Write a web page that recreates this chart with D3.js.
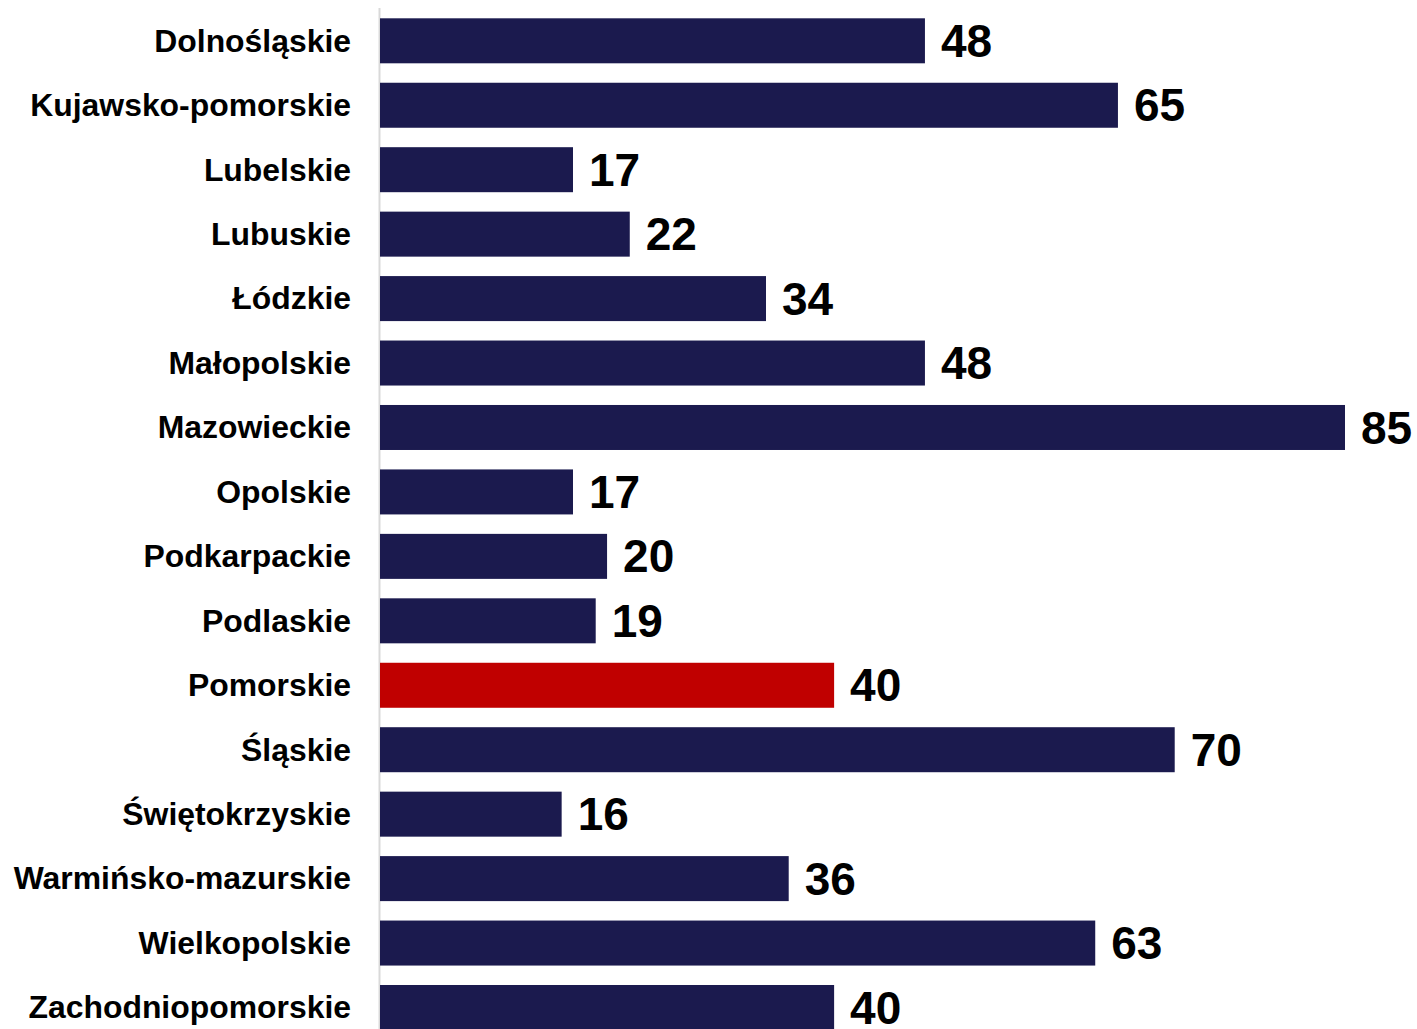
<!DOCTYPE html>
<html>
<head>
<meta charset="utf-8">
<script src="https://cdn.jsdelivr.net/npm/d3@7"></script>
<style>
  html, body { margin: 0; padding: 0; background: #ffffff; }
  svg { display: block; }
</style>
</head>
<body>
<svg id="chart" width="1417" height="1029"></svg>
<script>
const categories = ["Dolnośląskie","Kujawsko-pomorskie","Lubelskie","Lubuskie","Łódzkie","Małopolskie","Mazowieckie","Opolskie","Podkarpackie","Podlaskie","Pomorskie","Śląskie","Świętokrzyskie","Warmińsko-mazurskie","Wielkopolskie","Zachodniopomorskie"];
const values = [48,65,17,22,34,48,85,17,20,19,40,70,16,36,63,40];
const highlighted = ["Pomorskie"];

(function () {
const data = categories.map((c, i) => ({ name: c, value: values[i] }));

const svg = d3.select("#chart");
const mLeft = 380, mTop = 18.3, mBottom = 1030;
const x = d3.scaleLinear().domain([0, d3.max(values)]).range([mLeft, 1345]);
const y = d3.scaleBand().domain(categories).range([mTop, mBottom]).paddingInner(0.3017).paddingOuter(0);

svg.append("line")
  .attr("x1", mLeft - 0.5).attr("x2", mLeft - 0.5)
  .attr("y1", 8).attr("y2", 1029)
  .attr("stroke", "#d9d9d9").attr("stroke-width", 2);

svg.selectAll("rect.bar").data(data).join("rect")
  .attr("class", "bar")
  .attr("x", x(0))
  .attr("y", d => y(d.name))
  .attr("width", d => x(d.value) - x(0))
  .attr("height", y.bandwidth())
  .attr("fill", d => highlighted.includes(d.name) ? "#c00000" : "#1b1a4e");

svg.selectAll("text.cat").data(data).join("text")
  .attr("class", "cat")
  .attr("x", mLeft - 29)
  .attr("y", d => y(d.name) + y.bandwidth() / 2)
  .attr("dy", "0.34em")
  .attr("text-anchor", "end")
  .attr("font-family", "Liberation Sans, Arial, sans-serif")
  .attr("font-weight", "bold")
  .attr("font-size", 31.9)
  .attr("fill", "#000")
  .text(d => d.name);

svg.selectAll("text.val").data(data).join("text")
  .attr("class", "val")
  .attr("x", d => x(d.value) + 16)
  .attr("y", d => y(d.name) + y.bandwidth() / 2)
  .attr("dy", "0.35em")
  .attr("font-family", "Liberation Sans, Arial, sans-serif")
  .attr("font-weight", "bold")
  .attr("font-size", 46)
  .attr("fill", "#000")
  .text(d => d.value);
})();
</script>
</body>
</html>
